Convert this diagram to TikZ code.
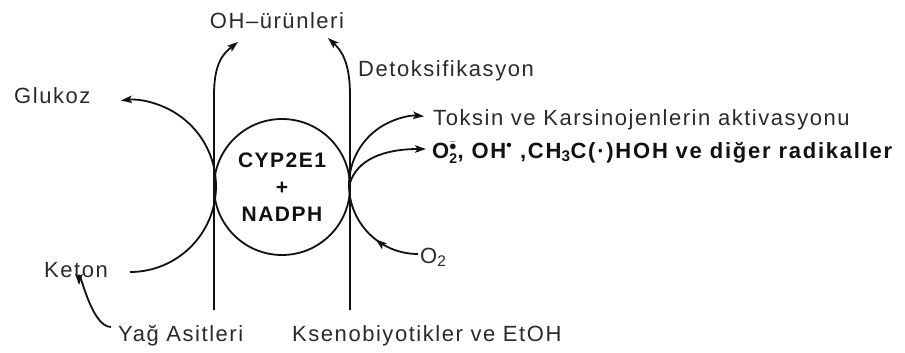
\documentclass[tikz,border=0pt]{standalone}
\usepackage{fontspec}
\setmainfont{Liberation Sans}
\newfontfamily\lblfont[LetterSpace=7]{Liberation Sans}
\newfontfamily\radfont[LetterSpace=8]{Liberation Sans}
\usetikzlibrary{arrows.meta,positioning,calc,decorations.markings}
\definecolor{Ink}{HTML}{111111}
\definecolor{Label}{HTML}{2A2A2A}
\newcommand{\lblsize}{\fontsize{22bp}{26bp}\selectfont}
\newcommand{\radsup}{$^{\bar{\bullet}}_{\mbox{\fontsize{14bp}{14bp}\selectfont 2}}$}

\tikzset{
  lbl/.style={inner sep=0pt,font=\lblfont\lblsize,text=Label},
  radlbl/.style={lbl,font=\radfont\lblsize\bfseries,text=Ink},
  conn/.style={draw=Ink,line width=1.8bp},
  flow/.style={conn,-{Stealth[length=11bp,width=7.5bp,inset=2.5bp]}},
  midflow/.style={conn,postaction={decorate},
    decoration={markings,mark=at position 0.42 with {\arrow{Stealth[length=11bp,width=7.5bp,inset=2.5bp]}}}}
}

\begin{document}
\begin{tikzpicture}[x=1bp,y=-1bp]
\useasboundingbox (0,0) rectangle (905,352);

% labels
\node[lbl,anchor=base] (oh) at (277,28) {OH–ürünleri};
\node[lbl,anchor=base west] (detox) at (358,76) {Detoksifikasyon};
\node[lbl,anchor=base west] (glukoz) at (14,103) {Glukoz};
\node[lbl,anchor=base west] (toksin) at (433,125) {Toksin ve Karsinojenlerin aktivasyonu};
\node[radlbl,anchor=base west] (radikal) at (432,158)
  {O\radsup, OH\textsuperscript{•} ,CH\textsubscript{3}C(·)HOH ve diğer radikaller};
\node[lbl,anchor=base west] (o2) at (420,263) {O\textsubscript{2}};
\node[lbl,anchor=base west] (keton) at (44,277) {Keton};
\node[lbl,anchor=base west] (yag) at (118,341) {Yağ Asitleri};
\node[lbl,anchor=base west] (ksen) at (292,341) {Ksenobiyotikler ve EtOH};

% enzyme
\node[circle,conn,minimum size=136bp,inner sep=0pt,align=center,
  font=\lblfont\fontsize{21bp}{27bp}\selectfont\bfseries,text=Ink] (enz) at (282,187)
  {CYP2E1\\+\\NADPH};

% end points
\coordinate (yagtop) at (214,310);
\coordinate (kstop) at (350,310);
\coordinate (ohL) at (238,42);
\coordinate (ohR) at (328,38);
\coordinate (ketend) at (130,272);
\coordinate (rjoin) at (349,185);
\coordinate (o2end) at (418,254);
\coordinate (radfrom) at (350,183);
\coordinate (radtip) at (426,149);
\coordinate (yagfrom) at (111,327);
\coordinate (ketto) at (79,285);

% hydroxylation
\draw[flow] (yagtop) -- (214,95) .. controls (214,62) and (224,53) .. (ohL);
\draw[flow] (kstop) -- (350,95) .. controls (350,62) and (341,50) .. (ohR);

% left loop
\draw[flow] (ketend) arc[start angle=90,end angle=-96,radius=86];
\draw[flow] (yagfrom) to[out=180,in=90] (ketto);

% right loop
\draw[flow] (rjoin) arc[start angle=180,end angle=275,radius=69];
\draw[midflow] (o2end) arc[start angle=90,end angle=180,radius=69];
\draw[flow] (radfrom) .. controls (357,160) and (383,149) .. (radtip);
\end{tikzpicture}
\end{document}
